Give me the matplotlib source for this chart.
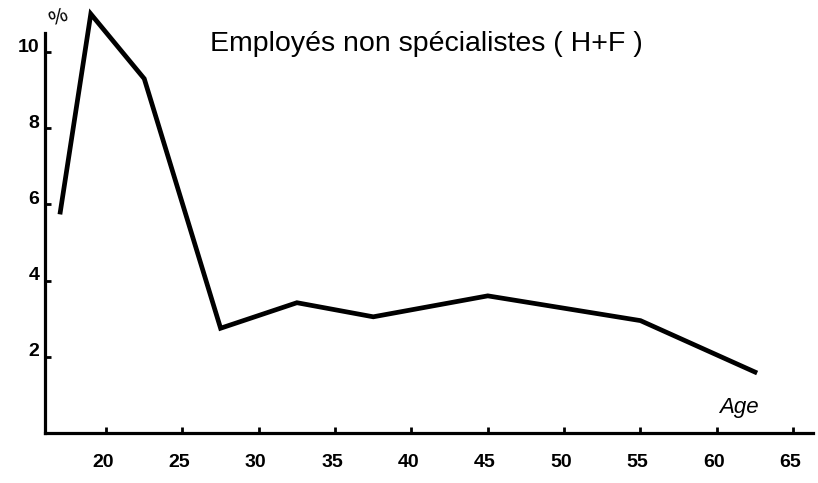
import matplotlib
matplotlib.use("Agg")
import matplotlib.pyplot as plt
import matplotlib.transforms as mtransforms

ages = [17, 19, 22.5, 27.5, 32.5, 37.5, 45, 55, 62.5]
values = [5.8, 11.0, 9.3, 2.75, 3.42, 3.05, 3.6, 2.95, 1.6]
x_ticks = [20, 25, 30, 35, 40, 45, 50, 55, 60, 65]
y_ticks = [2, 4, 6, 8, 10]
title = "Employés non spécialistes ( H+F )"

plt.rcParams['font.family'] = ['Liberation Sans', 'DejaVu Sans']

fig = plt.figure(figsize=(8.18, 4.83), dpi=100)
ax = fig.add_axes([45/818, 50/483, (813-45)/818, (433-33)/483])
ax.plot(ages, values, color='black', lw=3.4, clip_on=False, solid_joinstyle='miter')
ax.set_xlim(16.0, 66.3)
ax.set_ylim(0, 10.5)

for s in ['top', 'right']:
    ax.spines[s].set_visible(False)
for s in ['left', 'bottom']:
    ax.spines[s].set_linewidth(2.3)

ax.set_xticks(x_ticks)
ax.set_yticks(y_ticks)
ax.tick_params(axis='both', direction='in', length=4, width=2, labelsize=14, pad=15)
ax.tick_params(axis='y', pad=4)
for lab in ax.get_xticklabels() + ax.get_yticklabels():
    lab.set_fontweight('bold')
offx = mtransforms.ScaledTranslation(-3/100, 0, fig.dpi_scale_trans)
for lab in ax.get_xticklabels():
    lab.set_transform(lab.get_transform() + offx)
offy = mtransforms.ScaledTranslation(0, 7/100, fig.dpi_scale_trans)
for lab in ax.get_yticklabels():
    lab.set_transform(lab.get_transform() + offy)

fig.text(210/818, 1 - 44/483, title, fontsize=20.5, ha='left', va='center')
fig.text(739/818, 1 - 408/483, "Age", fontsize=16, ha='center', va='center', style='italic')
fig.text(58/818, 1 - 18/483, "%", fontsize=15, ha='center', va='center', rotation=20)

fig.savefig("out.png", dpi=100, facecolor='white')
